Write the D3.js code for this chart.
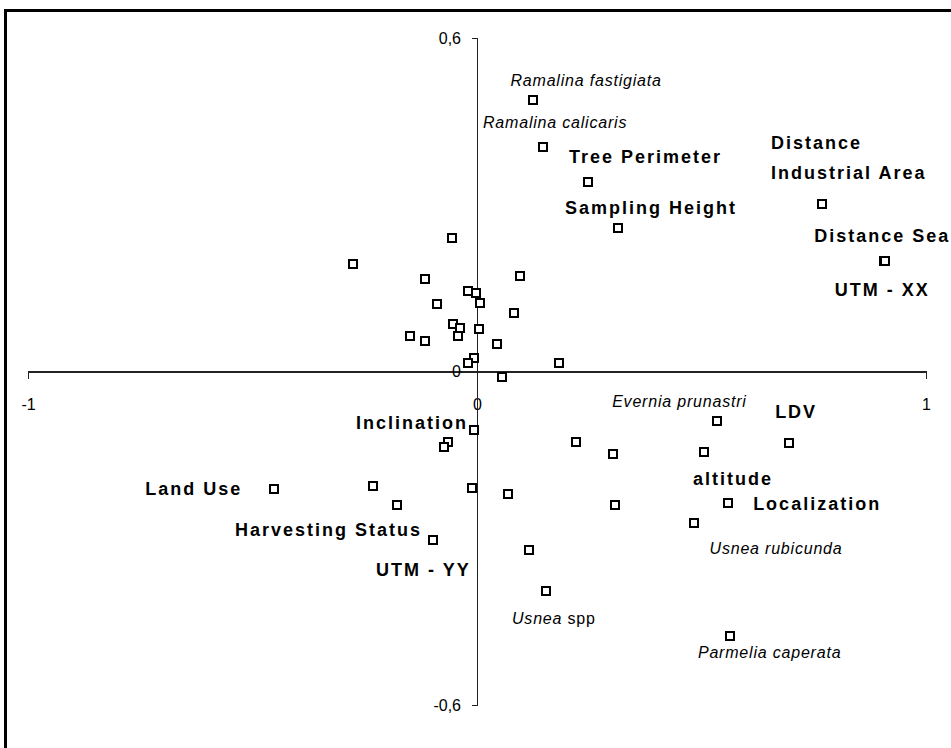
<!DOCTYPE html>
<html lang="en">
  <head>
    <meta charset="UTF-8">
    <title>Ordination biplot</title>
    <style>
      body { margin: 0; background: #fff; }
      .axis path, .axis line { stroke: #222; stroke-width: 1.3; shape-rendering: crispEdges; }
      .axis text { font-family: "Liberation Sans Narrow", "Liberation Sans", Arial, sans-serif; font-size: 16px; fill: #000; }
      .pt { fill: #fff; stroke: #000; stroke-width: 2; shape-rendering: crispEdges; }
      .lbl-bold { font-family: "Liberation Sans", Arial, sans-serif; font-weight: bold; font-size: 18px; letter-spacing: 2px; }
      .lbl-it { font-family: "Liberation Sans", Arial, sans-serif; font-style: italic; font-size: 16px; letter-spacing: 0.8px; }
    </style>
    <script src="https://d3js.org/d3.v7.min.js"></script>
  </head>
  <body>
    <script>
      // point scores (axis 1, axis 2)
      const xs = [0.125, 0.147, 0.247, 0.314, 0.768, 0.906, 0.908,
        -0.056, -0.276, -0.116, 0.096, -0.019, -0.003, 0.007, -0.090, 0.082,
        -0.053, -0.038, 0.005, -0.042, -0.150, -0.116, 0.045, -0.007, -0.019,
        0.183, 0.056,
        -0.007, -0.064, -0.074, -0.232, -0.178, -0.012, 0.069, 0.221, 0.304,
        0.308, 0.535, 0.506, 0.694, 0.559, 0.483, -0.452, -0.099, 0.116,
        0.153, 0.563];
      const ys = [0.488, 0.404, 0.341, 0.258, 0.301, 0.199, 0.198,
        0.240, 0.193, 0.166, 0.172, 0.145, 0.142, 0.124, 0.121, 0.106,
        0.085, 0.079, 0.076, 0.064, 0.064, 0.055, 0.049, 0.025, 0.015,
        0.015, -0.009,
        -0.105, -0.126, -0.136, -0.206, -0.240, -0.209, -0.220, -0.127, -0.148,
        -0.241, -0.089, -0.144, -0.129, -0.237, -0.272, -0.212, -0.303, -0.321,
        -0.395, -0.476];

      const xTicks = [-1, 0, 1];
      const yTicks = [-0.6, 0, 0.6];

      // labels: text, anchor x, anchor y (data units), text-anchor, style
      const labelText = ["Ramalina fastigiata", "Ramalina calicaris", "Tree Perimeter",
        "Sampling Height", "Distance", "Industrial Area", "Distance Sea", "UTM - XX",
        "Evernia prunastri", "LDV", "Inclination", "altitude", "Localization",
        "Land Use", "Harvesting Status", "UTM - YY", "Usnea rubicunda", "Usnea|spp",
        "Parmelia caperata"];
      const labelX = [0.243, 0.174, 0.205, 0.196, 0.655, 0.655, 0.751, 0.797,
        0.301, 0.664, -0.020, 0.481, 0.615, -0.739, -0.539, -0.225, 0.666, 0.078, 0.492];
      const labelY = [0.524, 0.449, 0.386, 0.294, 0.411, 0.357, 0.244, 0.148,
        -0.053, -0.073, -0.093, -0.193, -0.238, -0.211, -0.285, -0.357, -0.319, -0.445, -0.505];
      const labelAnchor = ["middle", "middle", "start", "start", "start", "start", "start", "start",
        "start", "start", "end", "start", "start", "start", "start", "start", "middle", "start", "start"];
      const labelItalic = [true, true, false, false, false, false, false, false,
        true, false, false, false, false, false, false, false, true, true, true];

      const width = 951;
      const height = 748;

      const svg = d3.select("body")
        .append("svg")
        .attr("width", width)
        .attr("height", height);

      // frame
      svg.append("rect")
        .attr("x", 5.5)
        .attr("y", 10.5)
        .attr("width", 1000)
        .attr("height", 1000)
        .attr("fill", "none")
        .attr("stroke", "#000")
        .attr("stroke-width", 3);

      const x = d3.scaleLinear().domain([-1, 1]).range([28, 926]);
      const y = d3.scaleLinear().domain([-0.6, 0.6]).range([705, 38]);

      const fmt = d => String(d).replace(".", ",");

      svg.append("g")
        .attr("class", "axis")
        .attr("transform", `translate(0, ${y(0)})`)
        .call(d3.axisBottom(x)
          .tickValues(xTicks)
          .tickSizeInner(0)
          .tickSizeOuter(7)
          .tickPadding(27)
          .tickFormat(fmt));

      svg.append("g")
        .attr("class", "axis")
        .attr("transform", `translate(${x(0)}, 0)`)
        .call(d3.axisLeft(y)
          .tickValues(yTicks)
          .tickSizeInner(0)
          .tickSizeOuter(5)
          .tickPadding(16)
          .tickFormat(fmt));

      svg.selectAll(".pt")
        .data(xs.map((v, i) => ({ x: v, y: ys[i] })))
        .enter()
        .append("rect")
        .attr("class", "pt")
        .attr("x", d => Math.round(x(d.x)) - 4)
        .attr("y", d => Math.round(y(d.y)) - 4)
        .attr("width", 8)
        .attr("height", 8);

      labelText.forEach((t, i) => {
        const txt = svg.append("text")
          .attr("class", labelItalic[i] ? "lbl-it" : "lbl-bold")
          .attr("x", x(labelX[i]))
          .attr("y", y(labelY[i]))
          .attr("dy", "0.35em")
          .attr("text-anchor", labelAnchor[i]);
        if (t.includes("|")) {
          const parts = t.split("|");
          txt.append("tspan").text(parts[0] + " ");
          txt.append("tspan").style("font-style", "normal").text(parts[1]);
        } else {
          txt.text(t);
        }
      });
    </script>
  </body>
</html>
